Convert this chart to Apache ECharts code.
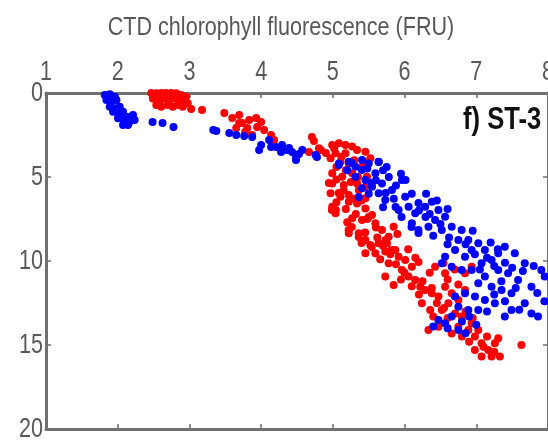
<!DOCTYPE html>
<html>
<head>
<meta charset="utf-8">
<style>
  html, body { margin: 0; padding: 0; background: #fff; }
  #chart { width: 548px; height: 446px; }
</style>
<script src="https://cdn.jsdelivr.net/npm/echarts@6/dist/echarts.min.js"></script>
</head>
<body>
<div id="chart"></div>
<script>
// Station ST-3: CTD chlorophyll fluorescence (FRU) against depth, two casts.
const titleText = 'CTD chlorophyll fluorescence (FRU)';
const panelLabel = 'f) ST-3';
const fluorTicks = [1, 2, 3, 4, 5, 6, 7, 8];
const depthTicks = [0, 5, 10, 15, 20];

// [fluorescence, depth] pairs, cast drawn in red
const redCast = [
  [2.468, 0.0], [2.538, 0.02], [2.607, 0.0], [2.676, 0.0], [2.746, 0.0], [2.815, 0.02],
  [2.885, 0.12], [2.954, 0.22], [2.490, 0.32], [2.560, 0.42], [2.653, 0.32], [2.722, 0.42],
  [2.792, 0.32], [2.861, 0.42], [2.931, 0.52], [2.538, 0.71], [2.607, 0.82], [2.699, 0.71],
  [2.768, 0.82], [2.838, 0.71], [2.907, 0.82], [3.024, 0.95], [3.176, 1.01], [2.583, 0.61],
  [2.976, 0.61],
  [3.486, 1.19], [3.694, 1.31], [3.736, 1.79], [3.833, 1.61], [3.931, 1.49], [3.944, 2.02],
  [3.806, 2.08], [3.694, 1.79], [3.875, 2.50], [4.139, 2.50], [4.181, 2.80], [3.597, 1.49],
  [4.000, 1.73], [4.042, 2.20], [3.778, 2.32], [3.653, 2.08],
  [4.708, 2.62], [4.736, 2.86], [4.667, 3.51], [4.833, 3.39], [4.903, 3.57],
  [4.806, 3.29], [4.991, 3.10], [5.084, 2.99], [5.176, 3.10], [5.269, 3.19], [5.037, 3.59],
  [5.176, 3.59], [5.338, 3.39], [5.454, 3.49], [5.523, 3.89], [4.968, 3.89], [5.107, 4.09],
  [5.222, 4.19], [4.991, 4.78], [5.130, 4.98], [5.269, 4.78], [5.407, 4.39], [5.477, 4.98],
  [4.991, 5.38], [5.153, 5.48], [5.338, 5.38], [4.968, 5.97], [5.107, 6.17], [5.222, 6.07],
  [5.361, 5.77], [4.991, 6.77], [5.037, 7.16], [5.222, 6.47], [5.338, 6.57], [5.454, 6.87],
  [5.546, 7.26], [5.454, 6.27], [5.269, 7.46], [5.407, 7.56], [5.593, 7.76], [5.685, 8.16],
  [5.778, 8.55], [5.847, 7.96], [5.222, 8.35], [5.361, 8.35], [5.454, 8.75], [5.523, 9.05],
  [5.639, 8.95], [5.755, 8.95], [5.454, 9.54], [5.593, 9.54], [5.731, 9.44], [5.871, 9.35],
  [5.917, 9.74], [6.009, 9.94], [6.102, 10.34], [5.778, 10.14], [5.963, 10.54], [6.056, 10.93],
  [6.148, 11.13], [6.218, 11.53], [5.731, 10.93], [5.847, 11.43], [6.287, 11.73], [6.380, 11.92],
  [6.472, 12.12], [6.565, 11.53], [6.657, 11.92], [6.750, 12.32], [6.843, 11.73], [6.935, 10.34],
  [6.843, 10.73], [6.426, 10.34], [6.565, 10.73], [6.241, 12.52], [6.357, 12.92], [6.519, 12.92],
  [6.611, 12.52], [6.704, 13.12], [6.796, 13.31], [6.889, 14.11], [6.981, 14.50], [7.074, 14.90],
  [7.167, 15.30], [7.259, 14.90], [7.306, 14.60], [7.213, 15.69], [7.074, 15.69], [7.329, 15.69],
  [6.333, 14.11], [6.472, 13.91], [6.657, 14.31], [6.750, 13.91], [6.935, 13.71], [7.028, 14.11],
  [7.630, 15.00], [4.986, 6.96], [5.220, 8.15], [5.400, 8.93], [6.542, 10.12], [6.194, 10.06],
  [4.944, 5.36], [5.042, 6.96], [5.264, 7.98], [5.361, 8.57], [5.542, 9.17], [5.736, 8.75],
  [5.819, 9.35], [5.083, 5.95], [5.500, 7.38],
  [5.02, 3.30], [5.12, 3.80], [5.30, 4.00], [5.45, 4.10], [5.05, 4.40], [5.18, 4.60],
  [5.35, 5.00], [5.05, 5.15], [5.25, 5.30], [5.45, 5.60], [5.15, 5.80], [5.30, 6.30],
  [5.05, 6.50], [5.40, 6.40], [5.18, 6.90], [5.32, 7.20], [5.48, 7.50], [5.20, 7.70],
  [5.60, 8.00], [5.45, 8.30], [5.62, 8.60], [5.70, 9.10], [5.80, 9.60], [5.66, 9.90],
  [5.88, 10.20], [6.00, 10.70], [5.95, 11.10], [6.10, 11.50], [6.25, 11.20], [6.38, 11.60],
  [6.20, 12.00], [6.45, 12.50], [6.55, 12.80], [6.60, 13.40], [6.85, 13.00], [6.95, 13.40],
  [6.40, 13.30], [6.80, 14.50], [6.90, 14.80], [7.15, 14.50], [7.10, 15.10], [7.25, 15.40],
  [6.98, 15.30], [6.35, 10.70], [6.70, 10.50], [6.60, 11.10], [6.75, 11.40], [5.90, 8.40],
  [6.05, 9.30], [6.15, 9.80]
];

// [fluorescence, depth] pairs, cast drawn in blue
const blueCast = [
  [1.819, 0.12], [1.889, 0.08], [1.958, 0.22], [1.843, 0.42], [1.912, 0.52], [1.982, 0.42],
  [1.889, 0.82], [1.958, 0.91], [2.028, 0.82], [1.935, 1.11], [2.004, 1.21], [2.074, 1.11],
  [2.051, 1.51], [2.121, 1.41], [2.190, 1.41], [2.097, 1.71], [2.167, 1.71], [2.236, 1.61],
  [2.143, 1.90], [2.074, 1.90], [2.213, 1.31], [2.004, 1.51],
  [2.486, 1.73], [2.625, 1.79], [2.778, 2.02], [3.333, 2.20],
  [3.375, 2.26], [3.556, 2.38], [3.653, 2.50], [3.764, 2.56], [3.875, 2.62], [3.972, 3.39],
  [4.000, 3.10], [4.111, 2.80], [4.139, 3.21], [4.208, 3.21], [4.278, 3.51], [4.292, 3.10],
  [4.361, 3.39], [4.389, 3.27], [4.431, 3.51], [4.486, 3.81], [4.486, 3.99], [4.778, 3.81],
  [4.528, 3.63],
  [4.574, 3.39], [4.759, 3.69], [5.084, 4.19], [5.222, 4.09], [5.315, 4.39], [5.407, 3.99],
  [5.500, 4.19], [5.639, 4.09], [5.315, 4.98], [5.454, 5.18], [5.593, 4.78], [5.685, 5.38],
  [5.546, 5.58], [5.407, 5.67], [5.639, 5.97], [5.731, 6.37], [5.824, 5.77], [5.963, 5.18],
  [6.009, 6.17], [5.917, 6.96], [6.056, 6.77], [6.148, 7.16], [6.287, 6.77], [6.380, 6.47],
  [6.472, 6.96], [6.565, 7.36], [6.102, 7.76], [6.194, 8.16], [6.333, 7.96], [6.426, 7.56],
  [6.519, 8.16], [6.657, 7.96], [6.796, 8.16], [6.750, 8.75], [6.889, 8.75], [7.028, 8.95],
  [7.120, 9.35], [6.935, 9.35], [6.843, 9.74], [6.704, 9.35], [6.565, 9.74], [6.519, 10.14],
  [6.657, 10.34], [6.796, 10.54], [6.935, 10.54], [7.074, 10.14], [7.213, 9.94], [7.306, 9.54],
  [7.398, 9.15], [7.537, 9.54], [7.676, 10.14], [7.306, 10.54], [7.444, 10.73], [7.583, 11.13],
  [7.769, 11.53], [7.907, 10.54], [7.954, 10.93], [7.120, 10.93], [7.028, 11.33], [7.213, 11.53],
  [7.352, 11.73], [7.491, 11.92], [7.676, 12.52], [7.769, 13.12], [7.491, 12.92], [7.398, 13.31],
  [7.259, 12.52], [7.120, 12.32], [6.982, 12.12], [6.843, 11.92], [6.704, 12.12], [6.750, 12.72],
  [6.889, 12.92], [7.028, 12.92], [6.657, 13.31], [6.565, 13.71], [6.472, 13.51], [6.750, 14.11],
  [7.861, 13.31],
  [5.083, 4.29], [5.264, 4.17], [5.403, 4.58], [5.639, 4.11], [5.542, 5.36], [5.736, 5.95],
  [5.875, 6.79], [5.958, 7.38], [6.097, 7.98], [6.194, 8.33], [6.014, 5.18], [6.194, 6.55],
  [6.292, 7.38], [5.361, 6.19],
  [5.20, 4.60], [5.48, 4.50], [5.70, 4.60], [5.78, 5.00], [5.60, 5.20], [5.88, 5.50],
  [5.50, 6.00], [5.70, 6.80], [5.85, 6.30], [6.10, 6.00], [6.20, 7.00], [6.35, 7.20],
  [6.50, 7.80], [6.40, 8.50], [6.62, 8.60], [6.60, 9.00], [6.85, 9.00], [6.98, 9.60],
  [7.15, 9.80], [7.05, 10.50], [7.25, 10.30], [7.40, 10.10], [7.50, 10.40], [7.65, 10.60],
  [7.80, 10.30], [7.35, 11.20], [7.55, 11.60], [7.85, 11.90], [7.95, 12.40], [7.25, 12.00],
  [7.40, 12.40], [7.60, 12.90], [7.15, 13.00], [6.90, 13.30], [6.80, 13.60], [6.60, 14.00],
  [6.85, 14.30], [7.00, 13.80], [6.40, 13.90], [5.75, 4.40], [5.95, 4.80], [6.30, 6.00],
  [6.45, 6.40], [6.60, 6.90], [6.95, 8.20], [7.20, 8.90], [7.30, 9.30]
];

const axisGray = '#707070';
const textGray = '#585858';
const labelFont = '"Liberation Sans", Arial, sans-serif';
// the lettering on this figure is condensed; squeeze it horizontally
const squeeze = 0.8;

const chart = echarts.init(document.getElementById('chart'), null, { renderer: 'canvas' });

const fluorMin = fluorTicks[0];
const fluorMax = fluorTicks[fluorTicks.length - 1];
const depthMin = depthTicks[0];
const depthMax = depthTicks[depthTicks.length - 1];

const frameLine = { show: true, onZero: false, lineStyle: { color: axisGray, width: 3 } };
const innerTick = { show: true, inside: true, length: 5, lineStyle: { color: axisGray, width: 1.5 } };

chart.setOption({
  animation: false,
  backgroundColor: '#ffffff',
  grid: { left: 46, top: 93, right: -2, bottom: 17 },
  xAxis: [
    {
      type: 'value', position: 'top', min: fluorMin, max: fluorMax, interval: 1,
      axisLine: frameLine, axisTick: innerTick, splitLine: { show: false },
      axisLabel: { show: false }
    },
    {
      type: 'value', position: 'bottom', min: fluorMin, max: fluorMax, interval: 1,
      axisLine: frameLine, axisTick: innerTick, splitLine: { show: false },
      axisLabel: { show: false }
    }
  ],
  yAxis: [
    {
      type: 'value', inverse: true, position: 'left', min: depthMin, max: depthMax, interval: 5,
      axisLine: frameLine, axisTick: innerTick, splitLine: { show: false },
      axisLabel: { show: false }
    },
    {
      type: 'value', inverse: true, position: 'right', min: depthMin, max: depthMax, interval: 5,
      axisLine: frameLine, axisTick: innerTick, splitLine: { show: false },
      axisLabel: { show: false }
    }
  ],
  series: [
    {
      name: 'Red cast', type: 'scatter', xAxisIndex: 0, yAxisIndex: 0,
      data: redCast, symbol: 'circle', symbolSize: 8,
      itemStyle: { color: '#ff0000', opacity: 1 }
    },
    {
      name: 'Blue cast', type: 'scatter', xAxisIndex: 0, yAxisIndex: 0,
      data: blueCast, symbol: 'circle', symbolSize: 8,
      itemStyle: { color: '#0000ff', opacity: 1 }
    }
  ]
});

// Tick labels, placed through the axes' own scales and drawn condensed.
const gridTop = chart.convertToPixel({ yAxisIndex: 0 }, depthMin);
const gridLeft = chart.convertToPixel({ xAxisIndex: 0 }, fluorMin);

const fluorLabels = fluorTicks.map(v => ({
  type: 'text',
  x: chart.convertToPixel({ xAxisIndex: 0 }, v),
  y: gridTop - 20,
  scaleX: squeeze,
  style: {
    text: String(v), fill: textGray, font: '27px ' + labelFont,
    textAlign: 'center', textVerticalAlign: 'middle'
  }
}));

const depthLabels = depthTicks.map(v => ({
  type: 'text',
  x: gridLeft - 3,
  y: chart.convertToPixel({ yAxisIndex: 0 }, v) + 1,
  scaleX: squeeze,
  style: {
    text: String(v), fill: textGray, font: '27px ' + labelFont,
    textAlign: 'right', textVerticalAlign: 'middle'
  }
}));

chart.setOption({
  graphic: [
    {
      type: 'text', x: 281, y: 28, scaleX: 0.83,
      style: {
        text: titleText, fill: textGray, font: '26px ' + labelFont,
        textAlign: 'center', textVerticalAlign: 'middle'
      }
    },
    {
      type: 'text', x: 463, y: 120, scaleX: squeeze, z: 10,
      style: {
        text: panelLabel, fill: '#111111', font: 'bold 32px ' + labelFont,
        textAlign: 'left', textVerticalAlign: 'middle'
      }
    }
  ].concat(fluorLabels, depthLabels)
});
</script>
</body>
</html>
